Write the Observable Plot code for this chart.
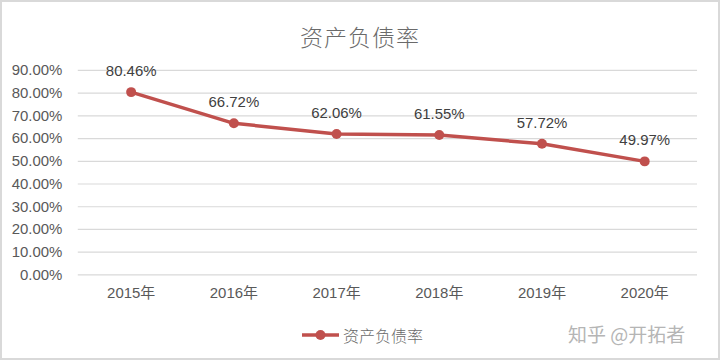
<!DOCTYPE html>
<html>
<head>
<meta charset="utf-8">
<script src="https://cdn.jsdelivr.net/npm/d3@7"></script>
<script src="https://cdn.jsdelivr.net/npm/@observablehq/plot@0.6"></script>
<style>
  html, body { margin: 0; padding: 0; background: #fff; }
  #frame { position: relative; width: 720px; height: 360px; box-sizing: border-box; border: 2px solid #d9d9d9; background: #fff; overflow: hidden; font-family: "Liberation Sans", "Noto Sans CJK SC", sans-serif; }
  #title { position: absolute; left: 0; width: 716px; top: 17px; text-align: center; font: 200 23px "Noto Sans CJK SC", sans-serif; color: #6a6a6a; letter-spacing: 1px; }
  #chart { position: absolute; left: -2px; top: 53px; }
  #legend { position: absolute; left: 298px; top: 322px; height: 22px; display: flex; align-items: center; color: #6a6a6a; font: 300 16px "Noto Sans CJK SC", sans-serif; }
  #watermark { position: absolute; left: 566px; top: 318px; font: 19px "Noto Sans CJK SC", sans-serif; color: #b5b5b5; }
</style>
</head>
<body>
<div id="frame">
  <div id="title">资产负债率</div>
  <div id="chart"></div>
  <div id="legend"><svg width="40" height="12"><line x1="2" x2="39" y1="6" y2="6" stroke="#C0504D" stroke-width="3.5"/><circle cx="20.5" cy="6" r="5" fill="#C0504D"/></svg><span style="margin-left:3px">资产负债率</span></div>
  <div id="watermark">知乎 @开拓者</div>
</div>
<script>
const seriesName = "资产负债率";
const years = ["2015年", "2016年", "2017年", "2018年", "2019年", "2020年"];
const ratios = [80.46, 66.72, 62.06, 61.55, 57.72, 49.97];
const yTicks = [0, 10, 20, 30, 40, 50, 60, 70, 80, 90];

const data = years.map((y, i) => ({year: y, value: ratios[i]}));
const lineColor = "#C0504D";

const chart = Plot.plot({
  width: 720,
  height: 265,
  marginTop: 15,
  marginBottom: 45,
  marginLeft: 78,
  marginRight: 21,
  style: {fontFamily: "'Liberation Sans', 'Noto Sans CJK SC', sans-serif", fontSize: "15px", color: "#595959", background: "transparent"},
  x: {type: "point", domain: years, padding: 0.5, label: null},
  y: {domain: [0, 90], label: null},
  marks: [
    Plot.ruleY(yTicks, {stroke: "#d9d9d9", strokeWidth: 1.2}),
    Plot.axisY({ticks: yTicks, tickFormat: d => d.toFixed(2) + "%", tickSize: 0, tickPadding: 16, fill: "#595959", fontSize: 15, label: null}),
    Plot.axisX({tickSize: 0, tickPadding: 13, fill: "#595959", fontSize: 15, label: null}),
    Plot.line(data, {x: "year", y: "value", stroke: lineColor, strokeWidth: 3.5}),
    Plot.dot(data, {x: "year", y: "value", r: 5, fill: lineColor}),
    Plot.text(data, {x: "year", y: "value", text: d => d.value.toFixed(2) + "%", dy: -21, fill: "#404040", fontSize: 15})
  ]
});
document.getElementById("chart").appendChild(chart);
</script>
</body>
</html>
